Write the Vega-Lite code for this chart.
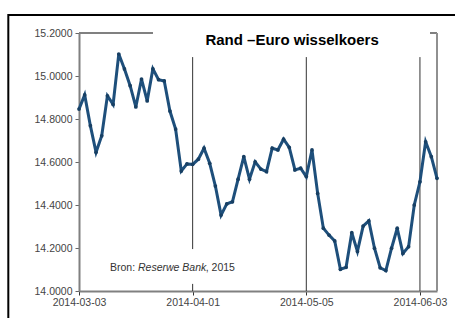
{
  "$schema": "https://vega.github.io/schema/vega-lite/v6.json",
  "width": 358,
  "height": 258,
  "autosize": {"type": "none"},
  "padding": {"left": 79, "top": 33, "right": 18, "bottom": 27},
  "background": "white",
  "config": {"view": {"stroke": null}, "font": "Liberation Sans"},
  "resolve": {"scale": {"x": "independent"}, "axis": {"x": "independent"}},
  "layer": [
    {
      "data": {"values": [{}]},
      "mark": {"type": "rect", "fillOpacity": 0, "stroke": "#000000", "strokeWidth": 2, "clip": false},
      "encoding": {
        "x": {"datum": -12.44, "type": "quantitative", "scale": {"domain": [0, 63], "nice": false, "zero": false}, "axis": null},
        "x2": {"datum": 75},
        "y": {"datum": 15.284, "type": "quantitative"},
        "y2": {"datum": 13.7}
      }
    },
    {
      "data": {"values": [{}]},
      "mark": {"type": "rule", "color": "#808080", "strokeWidth": 2},
      "encoding": {
        "x": {"datum": 0, "type": "quantitative", "scale": {"domain": [0, 63], "nice": false, "zero": false}, "axis": null},
        "x2": {"datum": 13.02},
        "y": {"datum": 15.2, "type": "quantitative"}
      }
    },
    {
      "data": {"values": [{}]},
      "mark": {"type": "rule", "color": "#808080", "strokeWidth": 2},
      "encoding": {
        "x": {"datum": 61.77, "type": "quantitative", "scale": {"domain": [0, 63], "nice": false, "zero": false}, "axis": null},
        "x2": {"datum": 63},
        "y": {"datum": 15.2, "type": "quantitative"}
      }
    },
    {
      "data": {"values": [{}]},
      "mark": {"type": "rule", "color": "#909090", "strokeWidth": 2},
      "encoding": {
        "x": {"datum": 63, "type": "quantitative", "scale": {"domain": [0, 63], "nice": false, "zero": false}, "axis": null},
        "y": {"datum": 14, "type": "quantitative"},
        "y2": {"datum": 15.2}
      }
    },
    {
      "data": {"values": [{}]},
      "mark": {"type": "rule", "color": "#333333", "strokeWidth": 1},
      "encoding": {
        "x": {"datum": 20, "type": "quantitative", "scale": {"domain": [0, 63], "nice": false, "zero": false}, "axis": null},
        "y": {"datum": 14.195, "type": "quantitative"},
        "y2": {"datum": 15.088}
      }
    },
    {
      "data": {"values": [{}]},
      "mark": {"type": "rule", "color": "#333333", "strokeWidth": 1},
      "encoding": {
        "x": {"datum": 20, "type": "quantitative", "scale": {"domain": [0, 63], "nice": false, "zero": false}, "axis": null},
        "y": {"datum": 14, "type": "quantitative"},
        "y2": {"datum": 14.033}
      }
    },
    {
      "data": {"values": [{}]},
      "mark": {"type": "rule", "color": "#333333", "strokeWidth": 1},
      "encoding": {
        "x": {"datum": 40, "type": "quantitative", "scale": {"domain": [0, 63], "nice": false, "zero": false}, "axis": null},
        "y": {"datum": 14, "type": "quantitative"},
        "y2": {"datum": 15.088}
      }
    },
    {
      "data": {"values": [{}]},
      "mark": {"type": "rule", "color": "#333333", "strokeWidth": 1},
      "encoding": {
        "x": {"datum": 60, "type": "quantitative", "scale": {"domain": [0, 63], "nice": false, "zero": false}, "axis": null},
        "y": {"datum": 14, "type": "quantitative"},
        "y2": {"datum": 15.088}
      }
    },
    {
      "data": {"values": [
        {"date": "2014-03-03", "koers": 14.846},
        {"date": "2014-03-04", "koers": 14.912},
        {"date": "2014-03-05", "koers": 14.769},
        {"date": "2014-03-06", "koers": 14.645},
        {"date": "2014-03-07", "koers": 14.722},
        {"date": "2014-03-10", "koers": 14.908},
        {"date": "2014-03-11", "koers": 14.868},
        {"date": "2014-03-12", "koers": 15.102},
        {"date": "2014-03-13", "koers": 15.033},
        {"date": "2014-03-14", "koers": 14.955},
        {"date": "2014-03-17", "koers": 14.856},
        {"date": "2014-03-18", "koers": 14.986},
        {"date": "2014-03-19", "koers": 14.884},
        {"date": "2014-03-20", "koers": 15.033},
        {"date": "2014-03-24", "koers": 14.983},
        {"date": "2014-03-25", "koers": 14.977},
        {"date": "2014-03-26", "koers": 14.837},
        {"date": "2014-03-27", "koers": 14.753},
        {"date": "2014-03-28", "koers": 14.558},
        {"date": "2014-03-31", "koers": 14.591},
        {"date": "2014-04-01", "koers": 14.589},
        {"date": "2014-04-02", "koers": 14.613},
        {"date": "2014-04-03", "koers": 14.664},
        {"date": "2014-04-04", "koers": 14.594},
        {"date": "2014-04-07", "koers": 14.488},
        {"date": "2014-04-08", "koers": 14.353},
        {"date": "2014-04-09", "koers": 14.405},
        {"date": "2014-04-10", "koers": 14.415},
        {"date": "2014-04-11", "koers": 14.520},
        {"date": "2014-04-14", "koers": 14.625},
        {"date": "2014-04-15", "koers": 14.520},
        {"date": "2014-04-16", "koers": 14.601},
        {"date": "2014-04-17", "koers": 14.567},
        {"date": "2014-04-22", "koers": 14.555},
        {"date": "2014-04-23", "koers": 14.664},
        {"date": "2014-04-24", "koers": 14.656},
        {"date": "2014-04-25", "koers": 14.706},
        {"date": "2014-04-29", "koers": 14.668},
        {"date": "2014-04-30", "koers": 14.563},
        {"date": "2014-05-02", "koers": 14.571},
        {"date": "2014-05-05", "koers": 14.532},
        {"date": "2014-05-06", "koers": 14.656},
        {"date": "2014-05-08", "koers": 14.454},
        {"date": "2014-05-09", "koers": 14.292},
        {"date": "2014-05-12", "koers": 14.260},
        {"date": "2014-05-13", "koers": 14.233},
        {"date": "2014-05-14", "koers": 14.101},
        {"date": "2014-05-15", "koers": 14.110},
        {"date": "2014-05-16", "koers": 14.271},
        {"date": "2014-05-19", "koers": 14.184},
        {"date": "2014-05-20", "koers": 14.302},
        {"date": "2014-05-21", "koers": 14.326},
        {"date": "2014-05-22", "koers": 14.199},
        {"date": "2014-05-23", "koers": 14.108},
        {"date": "2014-05-26", "koers": 14.095},
        {"date": "2014-05-27", "koers": 14.199},
        {"date": "2014-05-28", "koers": 14.292},
        {"date": "2014-05-29", "koers": 14.175},
        {"date": "2014-05-30", "koers": 14.206},
        {"date": "2014-06-02", "koers": 14.400},
        {"date": "2014-06-03", "koers": 14.508},
        {"date": "2014-06-04", "koers": 14.694},
        {"date": "2014-06-05", "koers": 14.625},
        {"date": "2014-06-06", "koers": 14.524}
      ]},
      "mark": {"type": "line", "color": "#1e4f7b", "strokeWidth": 3, "point": {"filled": true, "size": 14, "color": "#173f63"}},
      "encoding": {
        "x": {
          "field": "date", "type": "ordinal", "sort": null,
          "scale": {"type": "point", "padding": 0},
          "axis": {
            "values": ["2014-03-03", "2014-04-01", "2014-05-05", "2014-06-03"],
            "title": null, "labelAngle": 0, "grid": false,
            "domainColor": "#808080", "domainWidth": 2,
            "tickColor": "#333333", "tickSize": 4,
            "labelFontSize": 10.5, "labelColor": "#444444", "labelPadding": 2
          }
        },
        "y": {
          "field": "koers", "type": "quantitative",
          "scale": {"domain": [14, 15.2], "nice": false, "zero": false},
          "axis": {
            "values": [14, 14.2, 14.4, 14.6, 14.8, 15, 15.2],
            "format": ".4f", "title": null, "grid": false,
            "domainColor": "#808080", "domainWidth": 2,
            "tickColor": "#666666", "tickSize": 4,
            "labelFontSize": 10.5, "labelColor": "#444444", "labelPadding": 3
          }
        }
      }
    },
    {
      "data": {"values": [{}]},
      "mark": {"type": "text", "text": "Rand –Euro wisselkoers", "font": "Liberation Sans", "fontWeight": "bold", "fontSize": 15, "align": "center", "baseline": "alphabetic", "color": "#000000"},
      "encoding": {
        "x": {"datum": 37.5, "type": "quantitative", "scale": {"domain": [0, 63], "nice": false, "zero": false}, "axis": null},
        "y": {"datum": 15.144, "type": "quantitative"}
      }
    },
    {
      "data": {"values": [{}]},
      "mark": {"type": "text", "text": "Bron: ", "fontSize": 10.5, "align": "left", "baseline": "middle", "color": "#333333"},
      "encoding": {
        "x": {"datum": 5.455, "type": "quantitative", "scale": {"domain": [0, 63], "nice": false, "zero": false}, "axis": null},
        "y": {"datum": 14.108, "type": "quantitative"}
      }
    },
    {
      "data": {"values": [{}]},
      "mark": {"type": "text", "text": "Reserwe Bank", "fontSize": 10.5, "fontStyle": "italic", "align": "left", "baseline": "middle", "color": "#333333"},
      "encoding": {
        "x": {"datum": 10.38, "type": "quantitative", "scale": {"domain": [0, 63], "nice": false, "zero": false}, "axis": null},
        "y": {"datum": 14.108, "type": "quantitative"}
      }
    },
    {
      "data": {"values": [{}]},
      "mark": {"type": "text", "text": ", 2015", "fontSize": 10.5, "align": "left", "baseline": "middle", "color": "#333333"},
      "encoding": {
        "x": {"datum": 22.3, "type": "quantitative", "scale": {"domain": [0, 63], "nice": false, "zero": false}, "axis": null},
        "y": {"datum": 14.108, "type": "quantitative"}
      }
    }
  ]
}
